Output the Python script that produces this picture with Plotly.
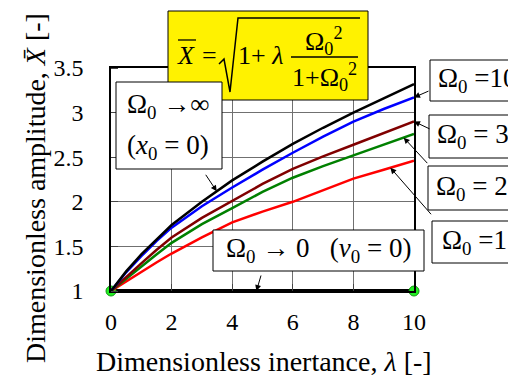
import numpy as np
import plotly.graph_objects as go

# dimensionless inertance (x) and amplitude curves
lam = [0, 0.5, 1, 1.5, 2, 3, 4, 5, 6, 7, 8, 9, 10]
amp_inf = [1, 1.22, 1.41, 1.58, 1.74, 2.00, 2.24, 2.45, 2.65, 2.83, 3.00, 3.16, 3.32]
amp_10 = [1, 1.21, 1.39, 1.56, 1.71, 1.95, 2.16, 2.36, 2.55, 2.73, 2.90, 3.04, 3.17]
amp_3 = [1, 1.16, 1.31, 1.46, 1.60, 1.82, 2.01, 2.20, 2.37, 2.51, 2.64, 2.77, 2.90]
amp_2 = [1, 1.14, 1.27, 1.41, 1.54, 1.75, 1.93, 2.11, 2.27, 2.40, 2.52, 2.64, 2.76]
amp_1 = [1, 1.11, 1.21, 1.32, 1.42, 1.60, 1.77, 1.89, 2.00, 2.13, 2.26, 2.36, 2.46]
amp_0 = [1, 1]
lam_0 = [0, 10]

x_ticks = [0, 2, 4, 6, 8, 10]
y_ticks = [1, 1.5, 2, 2.5, 3, 3.5]

FONT = "Liberation Serif"

# plot area in pixels (used to place boxes / text around the axes)
X0, X1, Y0, Y1 = 103, 406, 60, 283


def px(x):
    return (x - X0) / (X1 - X0)


def py(y):
    return (Y1 - y) / (Y1 - Y0)


fig = go.Figure()

fig.add_trace(go.Scatter(x=lam_0, y=amp_0, mode="lines+markers",
                         line=dict(color="black", width=4),
                         marker=dict(color="#22ee22", size=10, line=dict(color="#119911", width=1)),
                         cliponaxis=False))
for ys, col in [(amp_1, "#ff0000"), (amp_2, "#008000"), (amp_3, "#800000"),
                (amp_10, "#0000ff"), (amp_inf, "black")]:
    fig.add_trace(go.Scatter(x=lam, y=ys, mode="lines", line=dict(color=col, width=2.5)))

shapes = []
def box(x0, y0, x1, y1, fill="white"):
    shapes.append(dict(type="rect", xref="paper", yref="paper",
                       x0=px(x0), x1=px(x1), y0=py(y1), y1=py(y0),
                       line=dict(color="black", width=1), fillcolor=fill, layer="above"))

def seg(pts, width=1.3):
    path = "M " + " L ".join("%f,%f" % (px(a), py(b)) for a, b in pts)
    shapes.append(dict(type="path", xref="paper", yref="paper", path=path,
                       line=dict(color="black", width=width), layer="above"))

box(160, 3, 360, 92, fill="#fff200")
box(108, 74, 214, 161)
box(422, 52, 515.5, 93)
box(421, 107, 508, 150)
box(420, 158, 508, 202)
box(424, 213, 508, 255)
box(205, 222, 416, 263)

# radical sign, fraction bar and overline of X in the formula
seg([(211, 56), (216, 51), (222, 84), (230, 10), (352, 10)], width=1.5)
seg([(283, 49), (350, 49)])
seg([(170, 32), (188, 32)])

annotations = []
def txt(s, x, y, size=27, angle=0):
    annotations.append(dict(text=s, xref="paper", yref="paper", x=px(x), y=py(y),
                            xanchor="center", yanchor="middle", showarrow=False,
                            textangle=angle, font=dict(family=FONT, size=size, color="black")))

txt("<i>X</i>", 178, 47, size=26)
txt("=", 201, 47, size=26)
txt("1+ <i>λ</i>", 252, 47, size=26)
txt("Ω<sub>0</sub><sup>2</sup>", 316, 33, size=26)
txt("1+Ω<sub>0</sub><sup>2</sup>", 316, 69, size=26)

txt("Ω<sub>0</sub> →∞", 160, 98)
txt("(<i>x</i><sub>0</sub> = 0)", 160, 139)
txt("Ω<sub>0</sub> =10", 469, 72)
txt("Ω<sub>0</sub> = 3", 465, 128)
txt("Ω<sub>0</sub> = 2", 464, 180)
txt("Ω<sub>0</sub> =1", 466, 234)
txt("Ω<sub>0</sub> → 0\u00a0\u00a0\u00a0(<i>v</i><sub>0</sub> = 0)", 310, 242)

txt("Dimensionless inertance, <i>λ</i> [-]", 256, 353, size=28)
txt("Dimensionless amplitude, <i>X\u0304</i> [-]", 27, 180, size=28, angle=-90)

# arrows pointing from the boxes to the curves
def arrow(xt, xs, ys, ax, ay):
    annotations.append(dict(text="", x=xt, y=float(np.interp(xt, xs, ys)), xref="x", yref="y",
                            showarrow=True, ax=ax, ay=ay, arrowhead=2, arrowsize=1.2,
                            arrowwidth=1, arrowcolor="black", standoff=0))

arrow(3.49, lam, amp_inf, -12, -18)
arrow(10, lam, amp_10, 16, -7)
arrow(10, lam, amp_3, 17, 8)
arrow(9.66, lam, amp_2, 25, 27)
arrow(9.22, lam, amp_1, 42, 48)
arrow(4.8, lam_0, amp_0, 5, -17)

fig.update_layout(
    width=516, height=376,
    margin=dict(l=X0, r=516 - X1, t=Y0, b=376 - Y1),
    paper_bgcolor="white", plot_bgcolor="white",
    showlegend=False,
    font=dict(family=FONT, size=24, color="black"),
    shapes=shapes, annotations=annotations,
)
fig.update_xaxes(range=[0, 10], tickvals=x_ticks, showgrid=True, gridcolor="#707070", gridwidth=1,
                 showline=True, linecolor="black", linewidth=1.5, mirror=True,
                 ticks="inside", ticklen=7, tickcolor="#444", zeroline=False,
                 ticklabelstandoff=8, tickfont=dict(size=24))
# outer (invisible) ticks push the labels away; visible short ticks drawn inside as minor ticks
fig.update_yaxes(range=[1, 3.5], tickvals=y_ticks, showgrid=True, gridcolor="#707070", gridwidth=1,
                 showline=True, linecolor="black", linewidth=1.5, mirror=True,
                 ticks="outside", ticklen=21, tickcolor="rgba(0,0,0,0)", zeroline=False,
                 minor=dict(tickvals=y_ticks, ticks="inside", ticklen=7, tickcolor="#444", showgrid=False),
                 tickfont=dict(size=24))

fig.write_html("out.html")
